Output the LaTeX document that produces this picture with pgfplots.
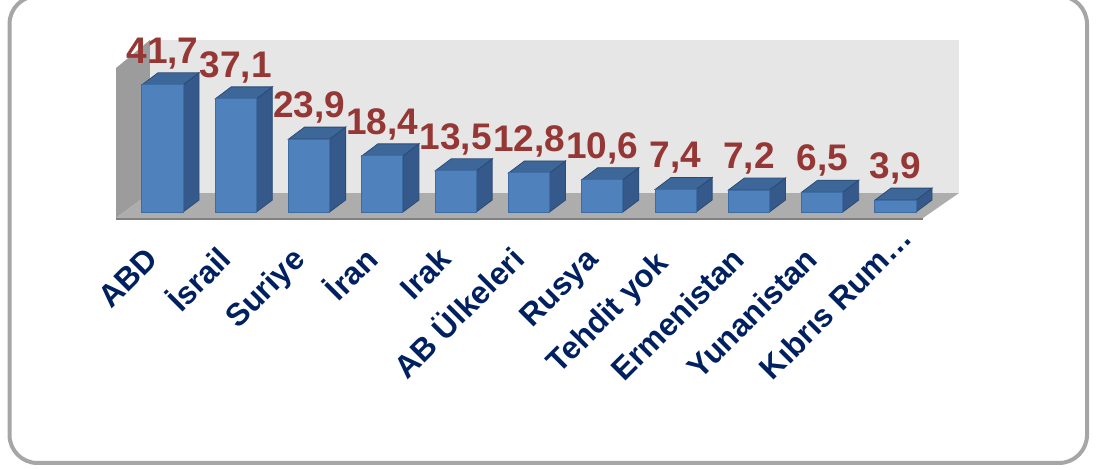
\documentclass[border=0pt]{standalone}
\usepackage{fontspec}
\setmainfont{Liberation Sans}
\usepackage{pgfplots}
\usepackage{pgfplotstable}
\pgfplotsset{compat=1.18}
\definecolor{barfront}{HTML}{4F81BD}
\definecolor{barfrontedge}{HTML}{3D6CA3}
\definecolor{barside}{HTML}{34598A}
\definecolor{bartop}{HTML}{3D6699}
\definecolor{valred}{HTML}{953735}
\definecolor{navy}{HTML}{002060}
\definecolor{wallback}{HTML}{E6E6E6}
\definecolor{wallleft}{HTML}{9C9C9C}
\definecolor{floorc}{HTML}{ADADAD}
\definecolor{framec}{HTML}{A6A6A6}

\pgfplotstableread{
x v
0 41.7
1 37.1
2 23.9
3 18.4
4 13.5
5 12.8
6 10.6
7 7.4
8 7.2
9 6.5
10 3.9
}\datatable

\begin{document}
\begin{tikzpicture}
\useasboundingbox (0,0) rectangle (1107pt,470pt);
\draw[framec, line width=4pt, rounded corners=28pt] (9.5pt,7pt) rectangle (1087pt,474pt);
\begin{axis}[
  at={(89.2pt,210.7pt)}, anchor=south west,
  scale only axis, width=952.9pt, height=230.3pt,
  xmin=-1, xmax=12, ymin=-15.5, ymax=60,
  axis line style={draw=none},
  ytick=\empty,
  xtick={0,...,10},
  xticklabels={ABD,İsrail,Suriye,İran,Irak,AB Ülkeleri,Rusya,Tehdit yok\kern5pt\null,Ermenistan,Yunanistan,Kıbrıs Rum…\kern-30pt\null},
  major tick length=0pt,
  xticklabel style={xshift=-8.6pt, yshift=4pt, rotate=45, anchor=east, inner sep=0pt,
    font=\bfseries\fontsize{31.5pt}{36pt}\selectfont, text=navy,
    text height=23.5pt, text depth=6.3pt},
  clip=false,
]
% walls and floor
\addplot[fill=wallback, draw=none] coordinates {(-0.171,6.23) (10.866,6.23) (10.866,56.4) (-0.171,56.4)} --cycle;
\addplot[fill=wallleft, draw=none] coordinates {(-0.634,-1.97) (-0.634,47.2) (-0.171,56.4) (-0.171,6.23)} --cycle;
\addplot[fill=floorc, draw=none] coordinates {(-0.634,-1.97) (10.375,-1.97) (10.866,6.23) (-0.171,6.23)} --cycle;
\addplot[draw=gray, line width=2pt] coordinates {(-0.634,-2.3) (10.375,-2.3)};
% side and top faces of the bars
\pgfplotsforeachungrouped \i in {0,...,10} {
  \pgfplotstablegetelem{\i}{v}\of\datatable
  \let\v\pgfplotsretval
  \pgfmathsetmacro\xa{\i+0.28}
  \pgfmathsetmacro\xb{\i+0.28+0.218}
  \pgfmathsetmacro\xc{\i-0.28}
  \pgfmathsetmacro\xd{\i-0.28+0.218}
  \pgfmathsetmacro\vb{\v+3.93}
  \edef\temp{%
    \noexpand\addplot[fill=barside, draw=barside!85!black, line width=0.8pt] coordinates {(\xa,0) (\xb,3.93) (\xb,\vb) (\xa,\v)} --cycle;
    \noexpand\addplot[fill=bartop, draw=barside!85!black, line width=0.8pt] coordinates {(\xc,\v) (\xa,\v) (\xb,\vb) (\xd,\vb)} --cycle;
  }
  \temp
}
% front faces with value labels
\addplot[ybar, bar width=0.56, fill=barfront, draw=barfrontedge, line width=1pt,
  nodes near coords={\pgfmathprintnumber[use comma, fixed, fixed zerofill, precision=1, assume math mode=true]{\pgfplotspointmeta}},
  nodes near coords align={anchor=base},
  every node near coord/.append style={anchor=base, yshift=21.5pt, inner sep=0pt,
    font=\bfseries\fontsize{37pt}{40pt}\selectfont, text=valred}
] table[x=x, y=v] {\datatable};
\end{axis}
\end{tikzpicture}
\end{document}
